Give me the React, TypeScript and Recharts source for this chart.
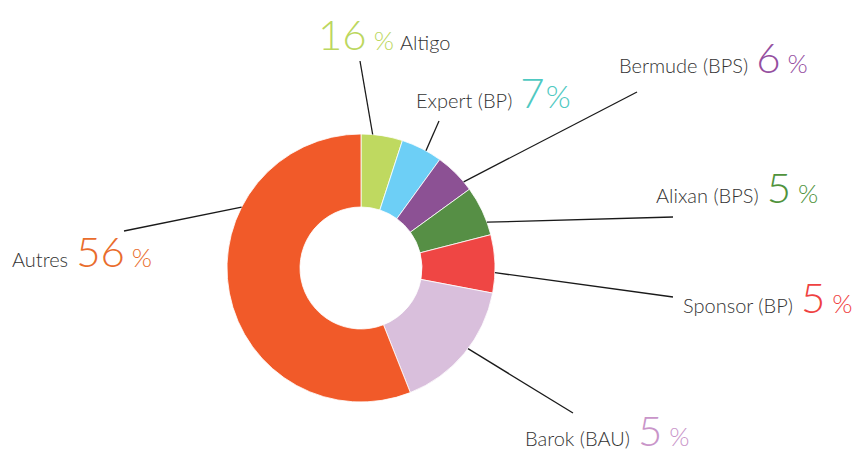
// Donut chart: répartition par courtier
import { PieChart, Pie, Cell } from 'recharts';

document.body.style.margin = '0';

const names = ['Altigo', 'Expert (BP)', 'Bermude (BPS)', 'Alixan (BPS)', 'Sponsor (BP)', 'Barok (BAU)', 'Autres'];
const shares = [5, 5, 5, 6, 7, 16, 56];
const shownPercents = [16, 7, 6, 5, 5, 5, 56];

const sliceColors = ['#bfd960', '#6dcff6', '#8c5194', '#568f45', '#ef4644', '#d9bfdc', '#f15a29'];
const textColors = ['#bcd75f', '#4fc9c2', '#954f9f', '#50933c', '#ef4141', '#c995c9', '#e96c2c'];

// leader line / label placement, relative to the donut centre
const labelLayout = [
    { angle: 5, end: [-1, -207], text: [-43, -218], valueFirst: true },
    { angle: 29, end: [78, -147], text: [55, -160], tight: true },
    { angle: 50, end: [276, -176], text: [258, -195] },
    { angle: 70, end: [312, -51], text: [295, -65] },
    { angle: 92, end: [312, 29], text: [322, 45] },
    { angle: 127, end: [212, 145], text: [164, 178] },
    { angle: 297, end: [-237, -37], text: [-349, -1] },
];

const data = names.map((name, i) => ({ name, value: shares[i], shown: shownPercents[i] }));

const FONT = 'Lato, "Open Sans", sans-serif';

function renderLabel(props: any) {
    const { cx, cy, outerRadius, index } = props;
    const lay = labelLayout[index];
    const rad = (lay.angle * Math.PI) / 180;
    const x1 = cx + outerRadius * Math.sin(rad);
    const y1 = cy - outerRadius * Math.cos(rad);
    const x2 = cx + lay.end[0];
    const y2 = cy + lay.end[1];
    const tx = cx + lay.text[0];
    const ty = cy + lay.text[1];
    const color = textColors[index];
    const num = (dx: number) => (
        <tspan key="v" fontSize={42} fontWeight={300} fill={color} dx={dx}>{shownPercents[index]}</tspan>
    );
    const pct = (
        <tspan key="p" fontSize={lay.tight ? 32 : 26} fontWeight={300} fill={color} dx={lay.tight ? 1 : 7}>%</tspan>
    );
    const nameSpan = (dx: number) => (
        <tspan key="n" fontSize={20} fontWeight={300} fill="#333" dx={dx}>{names[index]}</tspan>
    );
    return (
        <g key={`lbl-${index}`}>
            <line x1={x1} y1={y1} x2={x2} y2={y2} stroke="#1a1a1a" strokeWidth={1.3} />
            <text x={tx} y={ty} fontFamily={FONT} textAnchor="start">
                {lay.valueFirst ? [num(0), pct, nameSpan(6)] : [nameSpan(0), num(8), pct]}
            </text>
        </g>
    );
}

export default function App() {
    return (
        <div style={{ width: 856, height: 453, background: '#fff' }}>
            <PieChart width={856} height={453} margin={{ top: 0, right: 0, bottom: 0, left: 0 }}>
                <Pie
                    data={data}
                    dataKey="value"
                    nameKey="name"
                    cx={361}
                    cy={268}
                    innerRadius={61}
                    outerRadius={134}
                    startAngle={90}
                    endAngle={-270}
                    stroke="#fff"
                    strokeWidth={0.8}
                    label={renderLabel}
                    labelLine={false}
                    isAnimationActive={false}
                >
                    {data.map((d, i) => (
                        <Cell key={d.name} fill={sliceColors[i]} />
                    ))}
                </Pie>
            </PieChart>
        </div>
    );
}
